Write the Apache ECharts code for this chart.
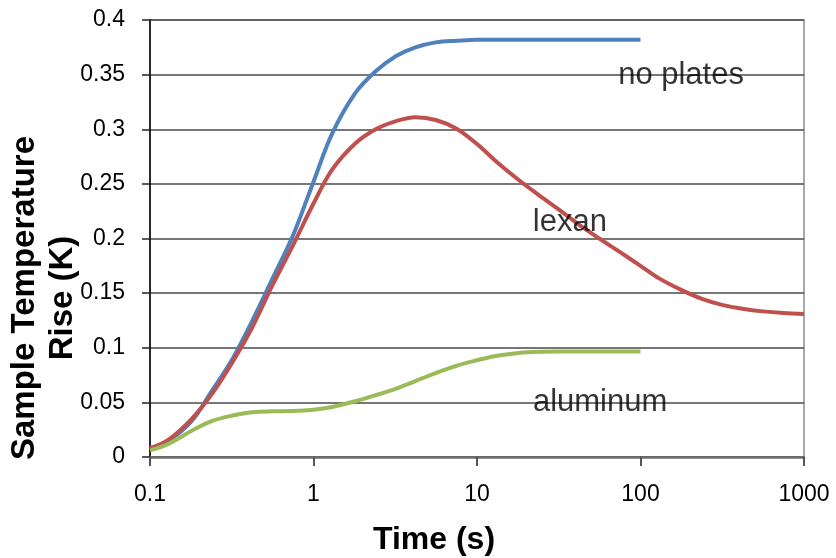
<!DOCTYPE html>
<html>
<head>
<meta charset="utf-8">
<script src="https://cdn.jsdelivr.net/npm/echarts@6/dist/echarts.min.js"></script>
<style>
html,body{margin:0;padding:0;background:#fff;}
#c{width:836px;height:558px;}
</style>
</head>
<body>
<div id="c"></div>
<script>
// ---- data (time in s, temperature rise in K) ----
var xTickLabels = ['0.1', '1', '10', '100', '1000'];
var yTickLabels = ['0', '0.05', '0.1', '0.15', '0.2', '0.25', '0.3', '0.35', '0.4'];

var noPlatesT = [0.1, 0.13, 0.18, 0.24, 0.32, 0.42, 0.56, 0.75, 1, 1.3, 1.8, 2.4, 3.2, 4.2, 5.6, 7.5, 10, 18, 32, 56, 100];
var noPlatesV = [0.008, 0.015, 0.033, 0.061, 0.09, 0.124, 0.163, 0.203, 0.252, 0.296, 0.333, 0.353, 0.367, 0.375, 0.3795, 0.381, 0.382, 0.382, 0.382, 0.382, 0.382];

var lexanT = [0.1, 0.13, 0.18, 0.24, 0.32, 0.42, 0.56, 0.75, 1, 1.3, 1.8, 2.4, 3.2, 4.2, 5.6, 7.5, 10, 13, 18, 24, 32, 42, 56, 75, 100, 130, 180, 240, 320, 420, 560, 750, 1000];
var lexanV = [0.008, 0.016, 0.035, 0.058, 0.087, 0.118, 0.157, 0.194, 0.232, 0.263, 0.287, 0.3, 0.3075, 0.311, 0.3085, 0.3005, 0.2865, 0.271, 0.2535, 0.2395, 0.226, 0.2127, 0.2, 0.1875, 0.175, 0.1635, 0.1525, 0.1445, 0.139, 0.1357, 0.1333, 0.1318, 0.131];

var aluminumT = [0.1, 0.13, 0.18, 0.24, 0.32, 0.42, 0.56, 0.75, 1, 1.3, 1.8, 2.4, 3.2, 4.2, 5.6, 7.5, 10, 13, 18, 24, 32, 56, 100];
var aluminumV = [0.006, 0.012, 0.024, 0.033, 0.038, 0.041, 0.0418, 0.042, 0.0432, 0.0458, 0.051, 0.0565, 0.0625, 0.0695, 0.0768, 0.0835, 0.0885, 0.0925, 0.0952, 0.0963, 0.0966, 0.0966, 0.0966];

var seriesNames = ['no plates', 'lexan', 'aluminum'];
var seriesColors = ['#4f81bd', '#c0504d', '#9bbb59'];

// text annotations placed in data space
var noteText = ['no plates', 'lexan', 'aluminum'];
var noteT = [177, 37, 56.6];
var noteV = [0.349, 0.215, 0.05];

function pairs(t, v) { return t.map(function (x, i) { return [x, v[i]]; }); }

var chart = echarts.init(document.getElementById('c'));
var lineSeries = [pairs(noPlatesT, noPlatesV), pairs(lexanT, lexanV), pairs(aluminumT, aluminumV)].map(function (d, i) {
  return {
    name: seriesNames[i], type: 'line', data: d, smooth: 0.35, symbol: 'none',
    lineStyle: { color: seriesColors[i], width: 4 }, z: 3 + i
  };
});

lineSeries.push({
  type: 'scatter', symbolSize: 0, z: 10,
  data: noteText.map(function (n, i) { return { name: n, value: [noteT[i], noteV[i]] }; }),
  label: {
    show: true, position: 'inside', formatter: '{b}',
    fontFamily: 'Liberation Sans, Arial, sans-serif', fontSize: 31, color: '#000'
  }
});

chart.setOption({
  animation: false,
  backgroundColor: '#fff',
  grid: { left: 150, right: 32, top: 20, bottom: 101, show: true, borderColor: '#8c8c8c', borderWidth: 1.5 },
  xAxis: {
    type: 'log', logBase: 10, min: 0.1, max: 1000,
    axisLine: { show: true, onZero: false, lineStyle: { color: '#6e6e6e', width: 2.5 } },
    axisTick: { show: true, inside: false, length: 9, lineStyle: { color: '#555', width: 2 } },
    minorTick: { show: false },
    splitLine: { show: false },
    axisLabel: {
      margin: 26, fontFamily: 'Liberation Sans, Arial, sans-serif', fontSize: 23, color: '#000',
      formatter: function (v) { return xTickLabels[Math.round(Math.log10(v) + 1)]; }
    }
  },
  yAxis: {
    type: 'value', min: 0, max: 0.4, interval: 0.05,
    axisLine: { show: true, lineStyle: { color: '#000', width: 1.5 } },
    axisTick: { show: true, inside: false, length: 8, lineStyle: { color: '#222', width: 1.5 } },
    splitLine: { show: true, lineStyle: { color: '#4a4a4a', width: 1.5 } },
    axisLabel: {
      margin: 25, fontFamily: 'Liberation Sans, Arial, sans-serif', fontSize: 23, color: '#000',
      formatter: function (v) { return yTickLabels[Math.round(v / 0.05)]; }
    }
  },
  graphic: [
    {
      type: 'text', x: 44, y: 298, rotation: Math.PI / 2,
      style: {
        text: 'Sample Temperature\nRise (K)', textAlign: 'center', textVerticalAlign: 'middle',
        font: 'bold 33px "Liberation Sans", Arial, sans-serif', lineHeight: 38, fill: '#000'
      }
    },
    {
      type: 'text', x: 434, y: 540,
      style: {
        text: 'Time (s)', textAlign: 'center', textVerticalAlign: 'middle',
        font: 'bold 32px "Liberation Sans", Arial, sans-serif', fill: '#000'
      }
    }
  ],
  series: lineSeries
});
</script>
</body>
</html>
